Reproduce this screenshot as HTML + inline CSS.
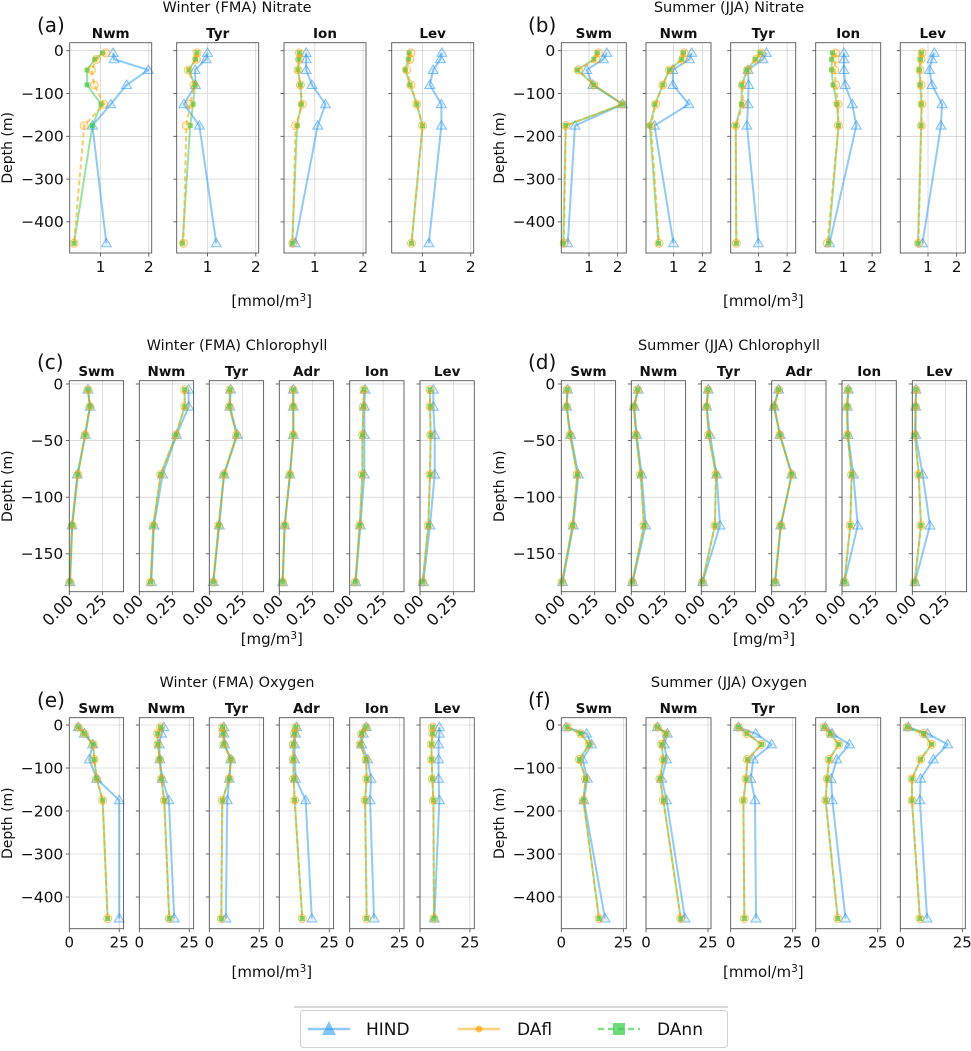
<!DOCTYPE html>
<html><head><meta charset="utf-8">
<style>
html,body{margin:0;padding:0;background:#fff;}
svg{display:block;font-family:"DejaVu Sans","Liberation Sans",sans-serif;}
</style></head>
<body>
<svg id="fig" width="971" height="1051" viewBox="0 0 971 1051" xmlns="http://www.w3.org/2000/svg"></svg>
<script>
// ---------- DATA ----------
const depthsNit = [-5,-20,-45,-80,-125,-175,-450];
const depthsChl = [-5,-20,-45,-80,-125,-175];
const depthsOxy = [-5,-20,-45,-80,-125,-175,-450];

const nitWRegions = ['Nwm','Tyr','Ion','Lev'];
const nitW_HIND = [[1.26,1.28,1.99,1.54,1.21,0.83,1.12],[1.0,0.97,0.74,0.75,0.51,0.83,1.18],[0.82,0.82,0.82,0.94,1.22,1.06,0.59],[1.4,1.37,1.22,1.15,1.39,1.39,1.13]];
const nitW_DAfl = [[1.11,0.92,0.81,0.87,1.07,0.66,0.45],[0.78,0.77,0.6,0.72,0.64,0.56,0.5],[0.68,0.68,0.65,0.7,0.74,0.6,0.54],[0.76,0.74,0.67,0.76,0.88,1.0,0.77]];
const nitW_DAnn = [[1.04,0.88,0.72,0.72,1.01,0.83,0.45],[0.78,0.75,0.61,0.74,0.7,0.64,0.48],[0.68,0.67,0.65,0.7,0.72,0.63,0.53],[0.72,0.71,0.64,0.74,0.88,1.0,0.77]];

const nitSRegions = ['Swm','Nwm','Tyr','Ion','Lev'];
const nitS_HIND = [[1.62,1.5,0.92,1.13,2.17,0.51,0.26],[1.63,1.55,0.97,0.97,1.53,0.33,0.99],[1.28,1.16,0.64,0.66,0.64,0.6,1.0],[1.02,1.02,1.02,1.06,1.31,1.45,0.52],[1.22,1.14,1.05,1.14,1.49,1.45,0.81]];
const nitS_DAfl = [[1.33,1.24,0.63,1.17,2.17,0.19,0.13],[1.37,1.31,0.85,0.62,0.37,0.21,0.49],[1.1,0.93,0.62,0.44,0.47,0.21,0.23],[0.73,0.71,0.7,0.73,0.81,0.83,0.44],[0.79,0.76,0.72,0.76,0.79,0.77,0.67]];
const nitS_DAnn = [[1.29,1.17,0.59,1.17,2.17,0.19,0.1],[1.34,1.28,0.85,0.62,0.35,0.17,0.47],[1.07,0.9,0.6,0.42,0.41,0.21,0.23],[0.62,0.59,0.59,0.64,0.78,0.83,0.48],[0.77,0.74,0.7,0.73,0.77,0.76,0.65]];

const chlRegions = ['Swm','Nwm','Tyr','Adr','Ion','Lev'];
const chlW_HIND = [[.14,.155,.12,.06,.02,.005],[.37,.37,.28,.175,.11,.09],[.16,.155,.21,.11,.075,.03],[.105,.105,.105,.08,.04,.025],[.115,.11,.11,.11,.08,.045],[.1,.1,.11,.11,.075,.025]];
const chlW_DAfl = [[.14,.155,.118,.065,.022,.005],[.34,.34,.275,.16,.105,.085],[.155,.15,.205,.11,.07,.03],[.105,.105,.105,.08,.04,.025],[.107,.103,.095,.095,.075,.042],[.075,.075,.08,.075,.062,.02]];
const chlW_DAnn = [[.14,.155,.118,.065,.022,.005],[.34,.34,.275,.16,.105,.085],[.155,.15,.205,.11,.07,.03],[.105,.105,.105,.08,.04,.025],[.107,.103,.095,.095,.075,.042],[.075,.075,.08,.075,.062,.02]];
const chlS_HIND = [[.048,.04,.07,.128,.09,.01],[.052,.022,.04,.078,.108,.01],[.052,.04,.065,.115,.14,.01],[.052,.018,.062,.15,.068,.025],[.048,.04,.045,.085,.118,.018],[.028,.025,.025,.078,.132,.02]];
const chlS_DAfl = [[.045,.04,.065,.12,.085,.005],[.048,.02,.035,.07,.095,.008],[.05,.04,.055,.11,.102,.008],[.052,.018,.062,.15,.068,.025],[.045,.038,.042,.072,.062,.018],[.028,.025,.02,.048,.065,.018]];
const chlS_DAnn = [[.045,.04,.065,.12,.085,.005],[.048,.02,.035,.07,.095,.008],[.05,.04,.055,.11,.102,.008],[.052,.018,.062,.15,.068,.025],[.045,.038,.042,.072,.062,.018],[.028,.025,.02,.048,.065,.018]];

const oxyWRegions = ['Swm','Nwm','Tyr','Adr','Ion','Lev'];
const oxyW_HIND = [[4.5,7.5,11.7,10,13.7,25,25],[12.3,11.2,10,10.3,11.5,14.8,17.5],[7.3,7.3,7.7,10.8,10,9,8.3],[8.7,8.2,7.7,7.7,8.2,13.2,16.3],[8.3,6.8,6,9,10.7,10.2,12.2],[9.7,9.7,9.3,9.3,9.3,9.7,7.2]];
const oxyW_DAfl = [[4.5,7.5,12,12.5,13.7,16.7,19.2],[10.7,9.2,9.3,10.2,11,12.5,15],[6.7,7,7.3,10.8,10,6.5,6],[8.3,7.7,7,7,7.2,7.7,11.5],[8.2,6,5.2,8.2,8.5,7.7,8.5],[6.3,6.3,5.7,5.8,6.2,6.7,7]];
const oxyW_DAnn = [[4.5,7.5,12,12.5,13.7,16.7,19.2],[10.7,9.2,9.3,10.2,11,12.5,15],[6.7,7,7.3,10.8,10,6.5,6],[8.3,7.7,7,7,7.2,7.7,11.5],[8.2,6,5.2,8.2,8.5,7.7,8.5],[6.3,6.3,5.7,5.8,6.2,6.7,7]];

const oxySRegions = ['Swm','Nwm','Tyr','Ion','Lev'];
const oxyS_HIND = [[1.9,10.2,12.2,8.6,10.5,9.1,17.6],[4.6,8.6,7.4,8.3,6.3,8.3,15.7],[3.1,10.1,16.5,9.1,8.1,9.8,10.2],[3.9,6.6,13.6,8.5,6.2,6.7,12],[3.2,11,19.1,13.3,8.2,7.9,10.8]];
const oxyS_DAfl = [[2.4,7.8,11.2,7.3,9.8,8.9,15.2],[4.6,8.1,6.3,7,5.6,7,14],[3.1,6.5,12.5,6.7,6.2,5.1,5.5],[3.4,5.8,9.3,5.4,4.6,4,8.9],[2.8,9.3,12.6,8.2,4.7,4.7,7.9]];
const oxyS_DAnn = [[2.4,7.8,11.2,7.3,9.8,8.9,15.2],[4.6,8.1,6.3,7,5.6,7,14],[3.1,6.5,12.5,6.7,6.2,5.1,5.5],[3.4,5.8,9.3,5.4,4.6,4,8.9],[2.8,9.3,12.6,8.2,4.7,4.7,7.9]];

const nitXTicks = [1,2];
const nitYTicks = [0,-100,-200,-300,-400];
const chlXTicks = [0,0.25];
const chlYTicks = [0,-50,-100,-150];
const oxyXTicks = [0,25];
const oxyYTicks = [0,-100,-200,-300,-400];

// ---------- DRAWING ----------
const NS = 'http://www.w3.org/2000/svg';
const svg = document.getElementById('fig');
function mk(tag, attrs, parent){
  const el = document.createElementNS(NS, tag);
  for (const k in attrs) el.setAttribute(k, attrs[k]);
  (parent||svg).appendChild(el);
  return el;
}
function txt(str, attrs, parent){
  const t = mk('text', attrs, parent);
  t.textContent = str;
  return t;
}
const C_HIND = '#2196f3', C_DAFL = '#ffa500', C_DANN = '#2ecc40';

function drawPanel(cfg){
  const g = mk('g', {});
  
  
  const sy = d => cfg.top + (cfg.ymax - d) / (cfg.ymax - cfg.ymin) * (cfg.bot - cfg.top);
  const n = cfg.regions.length;
  const midX = (cfg.lefts[0] + cfg.lefts[n-1] + cfg.w) / 2;
  const tt = txt(cfg.title, {x: cfg.titleX || midX, y: cfg.titleY, 'font-size': 14.5, 'text-anchor': 'middle', fill: '#111'}, g);
  
  
  const pl = txt('(' + cfg.id + ')', {x: cfg.labelX, y: cfg.labelY, 'font-size': 20, fill: '#111'}, g);
  
  
  const yl = txt('Depth (m)', {x: 0, y: 0, 'font-size': 14, 'text-anchor': 'middle', transform: 'translate(' + cfg.ylabX + ',' + ((cfg.top + cfg.bot) / 2) + ') rotate(-90)', fill: '#111'}, g);
  
  
  const xl = txt('', {x: midX, y: cfg.xlabY, 'font-size': 15, 'text-anchor': 'middle', fill: '#111'}, g);
  
  
  const t1 = document.createElementNS(NS, 'tspan'); t1.textContent = '[' + cfg.unit + '/m'; xl.appendChild(t1);
  const t2 = document.createElementNS(NS, 'tspan'); t2.setAttribute('dy', '-5'); t2.setAttribute('font-size', '10.5'); t2.textContent = '3'; xl.appendChild(t2);
  const t3 = document.createElementNS(NS, 'tspan'); t3.setAttribute('dy', '5'); t3.textContent = ']'; xl.appendChild(t3);

  for (let i = 0; i < n; i++){
    const L = cfg.lefts[i], W = cfg.w;
    const sx = v => L + (v - cfg.xmin) / (cfg.xmax - cfg.xmin) * W;
    const sg = mk('g', {}, g);
    
    
    cfg.yticks.forEach(t => {
      const gl = mk('line', {x1: L, x2: L + W, y1: sy(t), y2: sy(t), stroke: '#c8c8c8', 'stroke-width': 0.6}, sg);
      
      
      const tk = mk('line', {x1: L - 3.5, x2: L, y1: sy(t), y2: sy(t), stroke: '#444', 'stroke-width': 0.8}, sg);
      
      
      if (i === 0){
        const lab = txt(t < 0 ? '\u2212' + Math.abs(t) : String(t), {x: L - 6, y: sy(t) + 5.3, 'font-size': 15.5, 'text-anchor': 'end', fill: '#111'}, sg);
        
        
      }
    });
    cfg.xticks.forEach(t => {
      const x = sx(t);
      const gl = mk('line', {x1: x, x2: x, y1: cfg.top, y2: cfg.bot, stroke: '#c8c8c8', 'stroke-width': 0.6}, sg);
      
      
      const tk = mk('line', {x1: x, x2: x, y1: cfg.bot, y2: cfg.bot + 3.5, stroke: '#444', 'stroke-width': 0.8}, sg);
      
      
      let lab;
      if (cfg.rotTicks){
        lab = txt(t.toFixed(2), {x: 0, y: 0, 'font-size': 16, 'text-anchor': 'end', fill: '#111', transform: 'translate(' + (x + 5) + ',' + (cfg.bot + 10) + ') rotate(-45)'}, sg);
      } else {
        lab = txt(String(t), {x: x, y: cfg.bot + cfg.xtickDy, 'font-size': cfg.xtickFs, 'text-anchor': 'middle', fill: '#111'}, sg);
      }
      
      
    });
    const st = txt(cfg.regions[i], {x: L + W / 2, y: cfg.subY, 'font-size': 13.5, 'font-weight': 'bold', 'text-anchor': 'middle', fill: '#111'}, sg);
    
    
    const cid = 'clip-' + cfg.id + i;
    const cp = mk('clipPath', {id: cid}, sg);
    mk('rect', {x: L - 6, y: cfg.top - 6, width: W + 12, height: cfg.bot - cfg.top + 12}, cp);
    const dg = mk('g', {'clip-path': 'url(#' + cid + ')'}, sg);
    const series = [
      {name: 'HIND', vals: cfg.hind[i], color: C_HIND, dash: null, mk: 'tri', op: 0.5},
      {name: 'DAnn', vals: cfg.dann[i], color: C_DANN, dash: null, mk: 'sq', op: 0.5},
      {name: 'DAfl', vals: cfg.dafl[i], color: C_DAFL, dash: '5,3', mk: 'circ', op: 0.6}
    ];
    series.forEach(s => {
      const pts = s.vals.map((v, k) => sx(v).toFixed(2) + ',' + sy(cfg.depths[k]).toFixed(2)).join(' ');
      const pl2 = mk('polyline', {points: pts, fill: 'none', stroke: s.color, 'stroke-width': 2, 'stroke-opacity': s.op, 'stroke-linejoin': 'round'}, dg);
      if (s.dash) pl2.setAttribute('stroke-dasharray', s.dash);
      
      
      s.vals.forEach((v, k) => {
        const x = sx(v), y = sy(cfg.depths[k]);
        let m;
        if (s.mk === 'tri'){
          m = mk('polygon', {points: (x) + ',' + (y - 5) + ' ' + (x - 5) + ',' + (y + 3.5) + ' ' + (x + 5) + ',' + (y + 3.5), fill: s.color, 'fill-opacity': 0.12, stroke: s.color, 'stroke-opacity': 0.55, 'stroke-width': 1}, dg);
        } else if (s.mk === 'sq'){
          m = mk('rect', {x: x - 2.5, y: y - 2.5, width: 5, height: 5, fill: s.color, 'fill-opacity': 0.7}, dg);
        } else {
          m = mk('circle', {cx: x, cy: y, r: 4, fill: s.color, 'fill-opacity': 0.15, stroke: s.color, 'stroke-opacity': 0.6, 'stroke-width': 1}, dg);
        }
        
        
      });
    });
    const fr = mk('rect', {x: L, y: cfg.top, width: W, height: cfg.bot - cfg.top, fill: 'none', stroke: '#555', 'stroke-width': 0.9}, sg);
    
    
  }
}

const leftsA = [69.7,176.7,284,391.7];
const leftsB = [561.3,646,730.7,815.7,900.3];
const leftsC = [69.3,139.3,209.3,279.3,349.7,420];
const leftsD = [561.3,631.3,701.3,771.7,842,912.3];

drawPanel({id:'a', title:'Winter (FMA) Nitrate', titleX:237, titleY:12, labelX:37, labelY:32, subY:38, ylabX:12, xlabY:306, unit:'mmol',
  lefts:leftsA, w:82, top:42.7, bot:253, xmin:0.36, xmax:2.06, ymax:18.7, ymin:-472.7,
  xticks:nitXTicks, yticks:nitYTicks, xtickDy:19, xtickFs:15.5, regions:nitWRegions, depths:depthsNit, hind:nitW_HIND, dafl:nitW_DAfl, dann:nitW_DAnn});
drawPanel({id:'b', title:'Summer (JJA) Nitrate', titleX:729, titleY:12, labelX:528, labelY:32, subY:38, ylabX:504, xlabY:306, unit:'mmol',
  lefts:leftsB, w:65, top:42.7, bot:253, xmin:0.035, xmax:2.3, ymax:18.7, ymin:-472.7,
  xticks:nitXTicks, yticks:nitYTicks, xtickDy:19, xtickFs:15.5, regions:nitSRegions, depths:depthsNit, hind:nitS_HIND, dafl:nitS_DAfl, dann:nitS_DAnn});
drawPanel({id:'c', title:'Winter (FMA) Chlorophyll', titleX:237, titleY:350, labelX:37, labelY:369, subY:376, ylabX:12, xlabY:644, unit:'mg',
  lefts:leftsC, w:54.3, top:380.7, bot:591.7, xmin:0, xmax:0.407, ymax:2.9, ymin:-183.5,
  xticks:chlXTicks, yticks:chlYTicks, rotTicks:true, regions:chlRegions, depths:depthsChl, hind:chlW_HIND, dafl:chlW_DAfl, dann:chlW_DAnn});
drawPanel({id:'d', title:'Summer (JJA) Chlorophyll', titleX:729, titleY:350, labelX:528, labelY:369, subY:376, ylabX:504, xlabY:644, unit:'mg',
  lefts:leftsD, w:54.3, top:380.7, bot:591.7, xmin:0, xmax:0.407, ymax:2.9, ymin:-183.5,
  xticks:chlXTicks, yticks:chlYTicks, rotTicks:true, regions:chlRegions, depths:depthsChl, hind:chlS_HIND, dafl:chlS_DAfl, dann:chlS_DAnn});
drawPanel({id:'e', title:'Winter (FMA) Oxygen', titleX:237, titleY:687, labelX:37, labelY:707, subY:713, ylabX:12, xlabY:977, unit:'mmol',
  lefts:leftsC, w:54.3, top:717.7, bot:928.7, xmin:0, xmax:27.2, ymax:17, ymin:-473.7,
  xticks:oxyXTicks, yticks:oxyYTicks, xtickDy:19, xtickFs:15, regions:oxyWRegions, depths:depthsOxy, hind:oxyW_HIND, dafl:oxyW_DAfl, dann:oxyW_DAnn});
drawPanel({id:'f', title:'Summer (JJA) Oxygen', titleX:729, titleY:687, labelX:528, labelY:707, subY:713, ylabX:504, xlabY:977, unit:'mmol',
  lefts:leftsB, w:65, top:717.7, bot:928.7, xmin:0, xmax:26.2, ymax:17, ymin:-473.7,
  xticks:oxyXTicks, yticks:oxyYTicks, xtickDy:19, xtickFs:15, regions:oxySRegions, depths:depthsOxy, hind:oxyS_HIND, dafl:oxyS_DAfl, dann:oxyS_DAnn});

// ---------- LEGEND ----------
const lg = mk('g', {});


const sep = mk('line', {x1: 294, x2: 728, y1: 1007, y2: 1007, stroke: '#ccc', 'stroke-width': 1.5}, lg);


const lbox = mk('rect', {x: 300.5, y: 1010.5, width: 427, height: 37, rx: 3, fill: '#fff', stroke: '#d0d0d0', 'stroke-width': 1}, lg);


const ly = 1029;
const e1 = mk('g', {}, lg);


mk('line', {x1: 308, x2: 350, y1: ly, y2: ly, stroke: C_HIND, 'stroke-width': 2.5, 'stroke-opacity': 0.5}, e1);
mk('polygon', {points: '329,' + (ly - 8) + ' 322,' + (ly + 6) + ' 336,' + (ly + 6), fill: C_HIND, 'fill-opacity': 0.55}, e1);
txt('HIND', {x: 366, y: ly + 6, 'font-size': 17, fill: '#111'}, e1);
const e2 = mk('g', {}, lg);


mk('line', {x1: 458, x2: 500, y1: ly, y2: ly, stroke: C_DAFL, 'stroke-width': 2.5, 'stroke-opacity': 0.5}, e2);
mk('circle', {cx: 479, cy: ly, r: 3.5, fill: C_DAFL, 'fill-opacity': 0.7}, e2);
txt('DAfl', {x: 517, y: ly + 6, 'font-size': 17, fill: '#111'}, e2);
const e3 = mk('g', {}, lg);


mk('line', {x1: 598, x2: 640, y1: ly, y2: ly, stroke: C_DANN, 'stroke-width': 2.5, 'stroke-opacity': 0.6, 'stroke-dasharray': '6,4'}, e3);
mk('rect', {x: 613, y: ly - 6, width: 12, height: 12, fill: C_DANN, 'fill-opacity': 0.7}, e3);
txt('DAnn', {x: 657, y: ly + 6, 'font-size': 17, fill: '#111'}, e3);
</script>
</body></html>
